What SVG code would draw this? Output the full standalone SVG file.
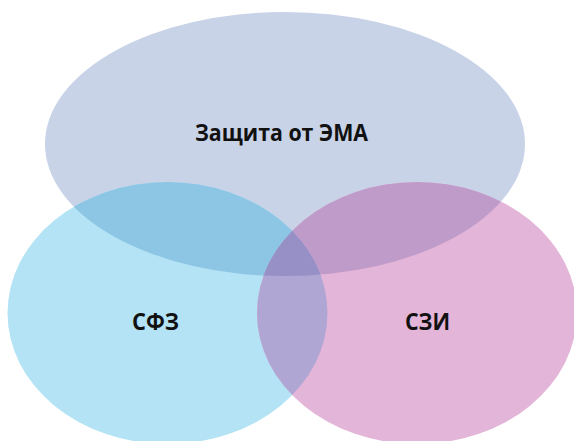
<svg xmlns="http://www.w3.org/2000/svg" width="574" height="441" viewBox="0 0 574 441">
<style>
.lbl{font-family:"Open Sans","Noto Sans","DejaVu Sans",sans-serif;font-weight:bold;font-size:23px;fill:#111;text-anchor:middle}
</style>
<defs>
<ellipse id="eT" cx="285" cy="144" rx="240" ry="132"/>
<ellipse id="eB" cx="167.5" cy="313" rx="160" ry="131"/>
<ellipse id="eP" cx="417" cy="313" rx="160" ry="131"/>
<clipPath id="cT"><use href="#eT"/></clipPath>
<clipPath id="cB"><use href="#eB"/></clipPath>
<clipPath id="cP"><use href="#eP"/></clipPath>
</defs>
<rect width="574" height="441" fill="#ffffff"/>
<g id="node-ema"><use href="#eT" fill="#c8d3e8"/></g>
<g id="node-sfz"><use href="#eB" fill="#b3e3f4"/></g>
<g id="node-szi"><use href="#eP" fill="#e3b5d8"/></g>
<g id="overlaps">
<g clip-path="url(#cT)"><use href="#eB" fill="#8dc5e5"/></g>
<g clip-path="url(#cT)"><use href="#eP" fill="#bf9bc9"/></g>
<g clip-path="url(#cB)"><use href="#eP" fill="#b0a6d3"/></g>
<g clip-path="url(#cT)"><g clip-path="url(#cB)"><use href="#eP" fill="#9690c6"/></g></g>
</g>
<g id="labels">
<text class="lbl" x="281.5" y="141" textLength="173" lengthAdjust="spacingAndGlyphs">Защита от ЭМА</text>
<text class="lbl" x="155.5" y="330" textLength="47" lengthAdjust="spacingAndGlyphs">СФЗ</text>
<text class="lbl" x="427.5" y="330" textLength="45" lengthAdjust="spacingAndGlyphs">СЗИ</text>
</g>
<g id="connectors"/>
</svg>
